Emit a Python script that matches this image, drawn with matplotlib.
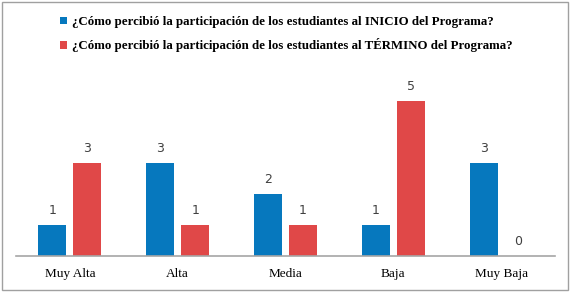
import matplotlib
matplotlib.use("Agg")
import matplotlib.pyplot as plt
import matplotlib.patches as mpatches
import numpy as np

categorias = ["Muy Alta", "Alta", "Media", "Baja", "Muy Baja"]
inicio = [1, 3, 2, 1, 3]
termino = [3, 1, 1, 5, 0]
etiquetas = [
    "¿Cómo percibió la participación de los estudiantes al INICIO del Programa?",
    "¿Cómo percibió la participación de los estudiantes al TÉRMINO del Programa?",
]

azul = "#0678BE"
rojo = "#E04848"

fig = plt.figure(figsize=(5.71, 2.92), dpi=100)
ax = fig.add_axes([0.028, 0.124, 0.944, 0.636])

x = np.arange(len(categorias))
ancho = 0.26
desp = 0.162
b1 = ax.bar(x - desp, inicio, ancho, color=azul, label=etiquetas[0])
b2 = ax.bar(x + desp, termino, ancho, color=rojo, label=etiquetas[1])

for barras, vals in [(b1, inicio), (b2, termino)]:
    for b, v in zip(barras, vals):
        ax.annotate(str(v), (b.get_x() + b.get_width() / 2, v),
                    xytext=(0, 5.5), textcoords="offset points",
                    ha="center", va="bottom", fontsize=9,
                    color="#404040", family="DejaVu Sans")

ax.set_xlim(-0.5, len(categorias) - 0.5)
ax.set_ylim(0, 6)
ax.set_yticks([])
ax.set_xticks(x)
ax.set_xticklabels(categorias, family="Liberation Serif", fontsize=9.5)
ax.tick_params(axis="x", length=0, pad=8.5)
for s in ["top", "right", "left"]:
    ax.spines[s].set_visible(False)
ax.spines["bottom"].set_color("#A6A6A6")
ax.spines["bottom"].set_linewidth(1.2)

fig.legend(handles=[b1, b2], labels=etiquetas, loc="upper left",
           bbox_to_anchor=(0.085, 0.985), frameon=False,
           handlelength=0.55, handleheight=0.55, handletextpad=0.35,
           labelspacing=0.8,
           prop={"family": "Liberation Serif", "weight": "bold", "size": 9.25})

fig.patches.append(mpatches.Rectangle((0.003, 0.006), 0.992, 0.988,
                                      transform=fig.transFigure, fill=False,
                                      edgecolor="#A0A0A0", linewidth=1))

fig.savefig("out.png", dpi=100)
